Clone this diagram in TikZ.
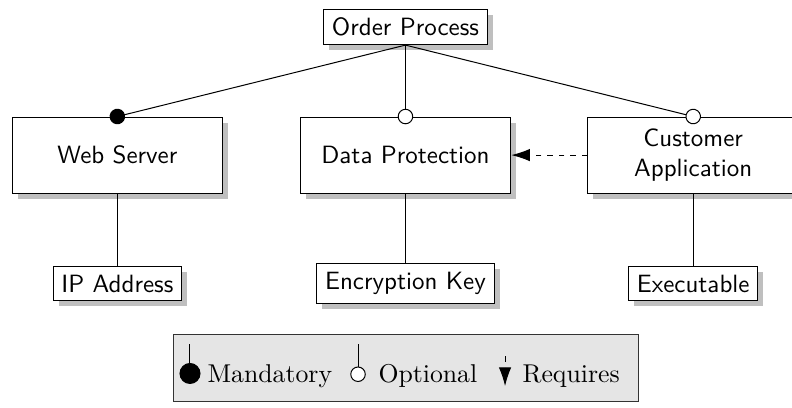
\documentclass[tikz,border=0pt]{standalone}
\usepackage{tikz}
\usetikzlibrary{arrows.meta, shadows, positioning}
\tikzset{
    shadowed/.style={drop shadow={fill=black!25, opacity=1, shadow xshift=2.2pt, shadow yshift=-2.2pt}},
    mandatory/.style={-{Circle[length=6.2pt]}, shorten >=-3.1pt},
    optional/.style={-{Circle[length=6.2pt, fill=white]}, shorten >=-3.1pt},
    requires/.style={-{Latex[length=7.5pt, width=5pt]}, dash pattern=on 2.3pt off 2.3pt}
}

\begin{document}
\begin{tikzpicture}[
        feature/.style={rectangle, draw=black, fill=white, shadowed, minimum width=2.96cm, minimum height=1.07cm, align=center, font=\sffamily},
        leaf/.style={rectangle, draw=black, fill=white, shadowed, font=\sffamily},
        legendbox/.style={rectangle, draw=black!80, fill=black!10, minimum width=6.55cm, minimum height=0.93cm},
        legendtext/.style={anchor=base west, inner sep=0pt, scale=1.03}
    ]
        \useasboundingbox (0,0) rectangle (11.134,-5.722);

        % Feature tree
        \node[leaf] (order) at (5.70,-0.38) {Order Process};
        \node[feature] (web) at (1.65,-2.18) {Web Server};
        \node[feature] (dataprot) at (5.70,-2.18) {Data Protection};
        \node[feature] (custapp) at (9.745,-2.18) {Customer\\Application};
        \node[leaf] (ipaddr) at (1.65,-3.985) {IP Address};
        \node[leaf] (enckey) at (5.70,-3.985) {Encryption Key};
        \node[leaf] (exec) at (9.745,-3.985) {Executable};

        % Connections
        \draw[mandatory] (order.south) -- (web.north);
        \draw[optional] (order.south) -- (dataprot.north);
        \draw[optional] (order.south) -- (custapp.north);
        \draw (web.south) -- (ipaddr.north);
        \draw (dataprot.south) -- (enckey.north);
        \draw (custapp.south) -- (exec.north);
        \draw[requires] (custapp.west) -- (dataprot.east);

        % Legend
        \node[legendbox] (legend) at (5.708,-5.174) {};
        \coordinate (mandtop) at (2.671,-4.836);
        \coordinate (mandend) at (2.671,-5.398);
        \coordinate (opttop) at (5.033,-4.836);
        \coordinate (optend) at (5.033,-5.370);
        \coordinate (reqtop) at (7.100,-5.005);
        \coordinate (reqend) at (7.100,-5.427);
        \draw[-{Circle[length=8.4pt]}] (mandtop) -- (mandend);
        \draw[-{Circle[length=6.2pt, fill=white]}] (opttop) -- (optend);
        \draw[requires] (reqtop) -- (reqend);
        \node[legendtext] (mandlabel) at (2.910,-5.384) {Mandatory};
        \node[legendtext] (optlabel) at (5.314,-5.384) {Optional};
        \node[legendtext] (reqlabel) at (7.339,-5.384) {Requires};

    \end{tikzpicture}
\end{document}
